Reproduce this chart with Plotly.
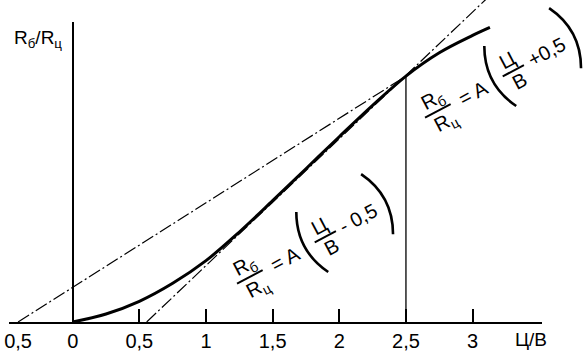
import math
import plotly.graph_objects as go

# ---------------- data ----------------
curve_x = [0, 0.25, 0.5, 0.75, 1.0, 1.25, 1.5, 1.75, 2.0, 2.25, 2.5, 2.75, 3.0, 3.13]
curve_y = [0, 0.06, 0.155, 0.29, 0.46, 0.675, 0.91, 1.15, 1.39, 1.625, 1.845, 2.02, 2.15, 2.21]

# dash-dot line A(C/W + 0.5): from -0.5 on the axis to the upper tangent point
line_plus_x = [-0.41, 2.5]
line_plus_y = [0, 1.845]
# dash-dot line A(C/W - 0.5): from 0.5 on the axis, running off the top
line_minus_x = [0.555, 3.11]
line_minus_y = [0, 2.43]

# vertical marker line at C/W = 2.5
marker_x = [2.5, 2.5]
marker_y = [0, 1.845]

tick_vals = [0, 0.5, 1, 1.5, 2, 2.5, 3]
label_vals = [-0.41, 0, 0.5, 1, 1.5, 2, 2.5, 3]
label_text = ["0,5", "0", "0,5", "1", "1,5", "2", "2,5", "3"]

y_label = "R<sub>б</sub>/R<sub>ц</sub>"
x_label = "Ц/В"
eq_minus = "- 0,5"
eq_plus = "+0,5"

# ---------------- layout geometry ----------------
W, H = 585, 353
BOT = 31
PH = H - BOT          # plot height in px
SCALE = 133.3         # px per unit on both axes
X0 = 72.7             # px of C/W = 0
XL, XR = 9, 542       # axis line extent in px

FONT = "Liberation Sans, Arial, Helvetica, sans-serif"

def paper(px, py):
    return px / W, (PH - py) / PH

fig = go.Figure()

dash = "13px,3px,2px,3px"
fig.add_trace(go.Scatter(x=line_plus_x, y=line_plus_y, mode="lines",
                         line=dict(color="black", width=1.2, dash=dash),
                         hoverinfo="skip", showlegend=False))
fig.add_trace(go.Scatter(x=line_minus_x, y=line_minus_y, mode="lines",
                         line=dict(color="black", width=1.2, dash=dash),
                         hoverinfo="skip", showlegend=False))
fig.add_trace(go.Scatter(x=marker_x, y=marker_y, mode="lines",
                         line=dict(color="black", width=1.3),
                         hoverinfo="skip", showlegend=False))
fig.add_trace(go.Scatter(x=curve_x, y=curve_y, mode="lines",
                         line=dict(color="black", width=3, shape="spline", smoothing=1),
                         hoverinfo="skip", showlegend=False))
# helper traces so the decorative axes exist
fig.add_trace(go.Scatter(x=[0], y=[0], xaxis="x", yaxis="y2", mode="markers",
                         marker=dict(size=1, opacity=0), hoverinfo="skip", showlegend=False))
fig.add_trace(go.Scatter(x=[0], y=[0], xaxis="x2", yaxis="y", mode="markers",
                         marker=dict(size=1, opacity=0), hoverinfo="skip", showlegend=False))

xr = [(XL - X0) / SCALE, (XR - X0) / SCALE]
yr = [0, PH / SCALE]

fig.update_layout(
    width=W, height=H,
    margin=dict(l=0, r=0, t=0, b=BOT, pad=0, autoexpand=False),
    paper_bgcolor="white", plot_bgcolor="rgba(0,0,0,0)",
    showlegend=False,
    font=dict(family=FONT, color="black", size=20),
    xaxis=dict(domain=[XL / W, XR / W], range=xr, showline=True, linecolor="black",
               linewidth=1.5, ticks="", tickvals=label_vals, ticktext=label_text,
               tickfont=dict(size=20, family=FONT, color="black"),
               ticklabelstandoff=0, automargin=False,
               showgrid=False, zeroline=False, fixedrange=True),
    xaxis2=dict(overlaying="x", range=xr, anchor="y", side="bottom",
                showline=False, ticks="inside", ticklen=13, tickwidth=1.5,
                tickcolor="black", tickvals=tick_vals, showticklabels=False,
                automargin=False,
                showgrid=False, zeroline=False, fixedrange=True),
    yaxis=dict(domain=[0, 1], range=yr, visible=False, fixedrange=True, automargin=False),
    yaxis2=dict(domain=[0, (PH - 22) / PH], anchor="free", position=X0 / W,
                range=[0, 1], showline=True, linecolor="black", linewidth=1.5,
                ticks="", showticklabels=False, showgrid=False, zeroline=False,
                automargin=False, fixedrange=True),
)

annotations = []
shapes = []

# axis labels
lx, ly = paper(12, 24.5)
annotations.append(dict(text=y_label, x=lx, y=ly, xref="paper", yref="paper",
                        xanchor="left", yanchor="top", showarrow=False,
                        font=dict(size=19, family=FONT, color="black")))
tx, ty = paper(530.5, 339)
annotations.append(dict(text=x_label, x=tx, y=ty, xref="paper", yref="paper",
                        xanchor="center", yanchor="middle", showarrow=False,
                        font=dict(size=19, family=FONT, color="black")))

# rotated formulas
ANG = 28
TH = math.radians(ANG)
C, S = math.cos(TH), math.sin(TH)

def loc(anchor, lu, lv):
    ax, ay = anchor
    return ax + lu * C - lv * S, ay - lu * S - lv * C

def add_text(anchor, lu, lv, text, size=20):
    px, py = loc(anchor, lu, lv)
    x, y = paper(px, py)
    annotations.append(dict(text=text, x=x, y=y, xref="paper", yref="paper",
                            xanchor="center", yanchor="middle",
                            showarrow=False, textangle=-ANG,
                            font=dict(size=size, family=FONT, color="black")))

def add_bar(anchor, lu0, lu1, lv, width=2):
    x0, y0 = paper(*loc(anchor, lu0, lv))
    x1, y1 = paper(*loc(anchor, lu1, lv))
    shapes.append(dict(type="line", xref="paper", yref="paper",
                       x0=x0, y0=y0, x1=x1, y1=y1,
                       line=dict(color="black", width=width)))

def add_paren(anchor, lu, lv_top, lv_bot, bulge):
    p0 = paper(*loc(anchor, lu, lv_top))
    p1 = paper(*loc(anchor, lu, lv_bot))
    pc = paper(*loc(anchor, lu + 2 * bulge, (lv_top + lv_bot) / 2))
    path = "M %.5f,%.5f Q %.5f,%.5f %.5f,%.5f" % (p0[0], p0[1], pc[0], pc[1], p1[0], p1[1])
    shapes.append(dict(type="path", xref="paper", yref="paper", path=path,
                       line=dict(color="black", width=2.6)))

def add_formula(anchor, tail):
    add_text(anchor, -30, 11.5, "R<sub>б</sub>")
    add_bar(anchor, -45, -16, 0.5)
    add_text(anchor, -29, -13.5, "R<sub>ц</sub>")
    add_text(anchor, 9.5, 0, "= A")
    add_paren(anchor, 41, 36, -32, -9)
    add_text(anchor, 55, 12.5, "Ц")
    add_bar(anchor, 43, 67, 0.5)
    add_text(anchor, 55.5, -11.5, "В")
    add_text(anchor, 93, 1.5, tail)
    add_paren(anchor, 116, 39, -29, 9)

add_formula((277, 263), eq_minus)
add_formula((465, 97), eq_plus)

fig.update_layout(annotations=annotations, shapes=shapes)

fig.write_html("out.html", config=dict(displayModeBar=False))
